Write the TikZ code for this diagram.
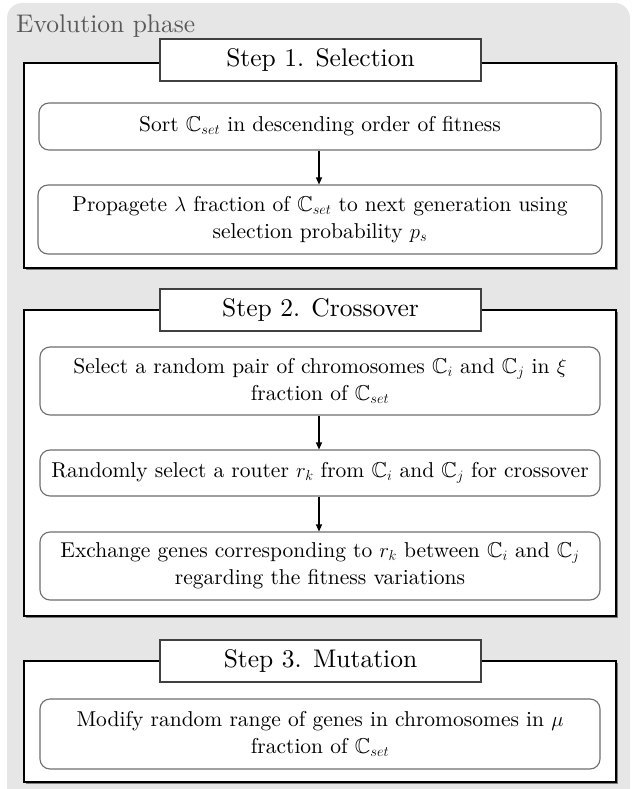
\documentclass[tikz,border=0pt]{standalone}
\usepackage{amssymb}
\usetikzlibrary{shadows,arrows.meta}
% text faces: the 10pt design of Latin Modern, set large
\font\bodyface="[lmroman10-regular.otf]" at 21.5pt
\font\titleface="[lmroman10-regular.otf]" at 25.5pt
\definecolor{phasebg}{HTML}{E6E6E6}
\definecolor{phasetxt}{HTML}{595959}
\definecolor{innerline}{HTML}{6E6E6E}
\definecolor{titleline}{HTML}{404040}
\tikzset{
  stepframe/.style={draw=black, line width=1.2pt, fill=white,
    drop shadow={shadow xshift=1.6pt, shadow yshift=-1.6pt, opacity=0.45, fill=black}},
  titlebox/.style={draw=titleline, line width=1.2pt, fill=white,
    minimum width=321pt, minimum height=42pt, inner sep=0pt,
    font={\fontsize{25.5}{30}\selectfont\titleface}},
  taskbox/.style={draw=innerline, line width=1.1pt, rounded corners=10pt, fill=white,
    minimum width=562pt, inner sep=0pt, align=center,
    font={\fontsize{21.5}{27}\selectfont\bodyface}},
  flow/.style={draw=black, line width=1.1pt, -{Triangle[length=7pt,width=6pt]}},
}
\newcommand{\Cs}[1]{\ensuremath{\mathbb{C}_{#1}}}
\begin{document}
\begin{tikzpicture}[x=1pt,y=-1pt]
\useasboundingbox (0,0) rectangle (636,789);
% phase background
\fill[phasebg, rounded corners=15pt] (7,3) rectangle (630,805);
\node[anchor=base west, text=phasetxt, font={\fontsize{25.5}{30}\selectfont\titleface}, inner sep=0pt]
  (phase) at (16,33) {Evolution phase};

% Step 1
\path[stepframe] (24,63) rectangle (616,268);
\node[titlebox] (t1) at (320.5,60) {Step 1. Selection};
\node[taskbox, minimum height=47pt] (sort) at (320,126.5)
  {Sort \Cs{set} in descending order of fitness};
\node[taskbox, minimum height=69pt, minimum width=564pt] (prop) at (320,219.5)
  {Propagete $\lambda$ fraction of \Cs{set} to next generation using\\
   selection probability $p_s$};
\draw[flow] (sort.south -| 319,0) -- (prop.north -| 319,0);

% Step 2
\path[stepframe] (24,310) rectangle (616,616);
\node[titlebox] (t2) at (320.5,310) {Step 2. Crossover};
\node[taskbox, minimum height=68pt, minimum width=560pt] (pair) at (320,381)
  {Select a random pair of chromosomes \Cs{i} and \Cs{j} in $\xi$\\
   fraction of \Cs{set}};
\node[taskbox, minimum height=46pt, minimum width=560pt] (router) at (320,473)
  {Randomly select a router $r_k$ from \Cs{i} and \Cs{j} for crossover};
\node[taskbox, minimum height=68pt, minimum width=560pt] (swap) at (320,566)
  {Exchange genes corresponding to $r_k$ between \Cs{i} and \Cs{j}\\
   regarding the fitness variations};
\draw[flow] (pair.south -| 319,0) -- (router.north -| 319,0);
\draw[flow] (router.south -| 319,0) -- (swap.north -| 319,0);

% Step 3
\path[stepframe] (24,661) rectangle (616,782);
\node[titlebox] (t3) at (320.5,661) {Step 3. Mutation};
\node[taskbox, minimum height=70pt, minimum width=560pt] (mut) at (320,734)
  {Modify random range of genes in chromosomes in $\mu$\\
   fraction of \Cs{set}};
\end{tikzpicture}
\end{document}
